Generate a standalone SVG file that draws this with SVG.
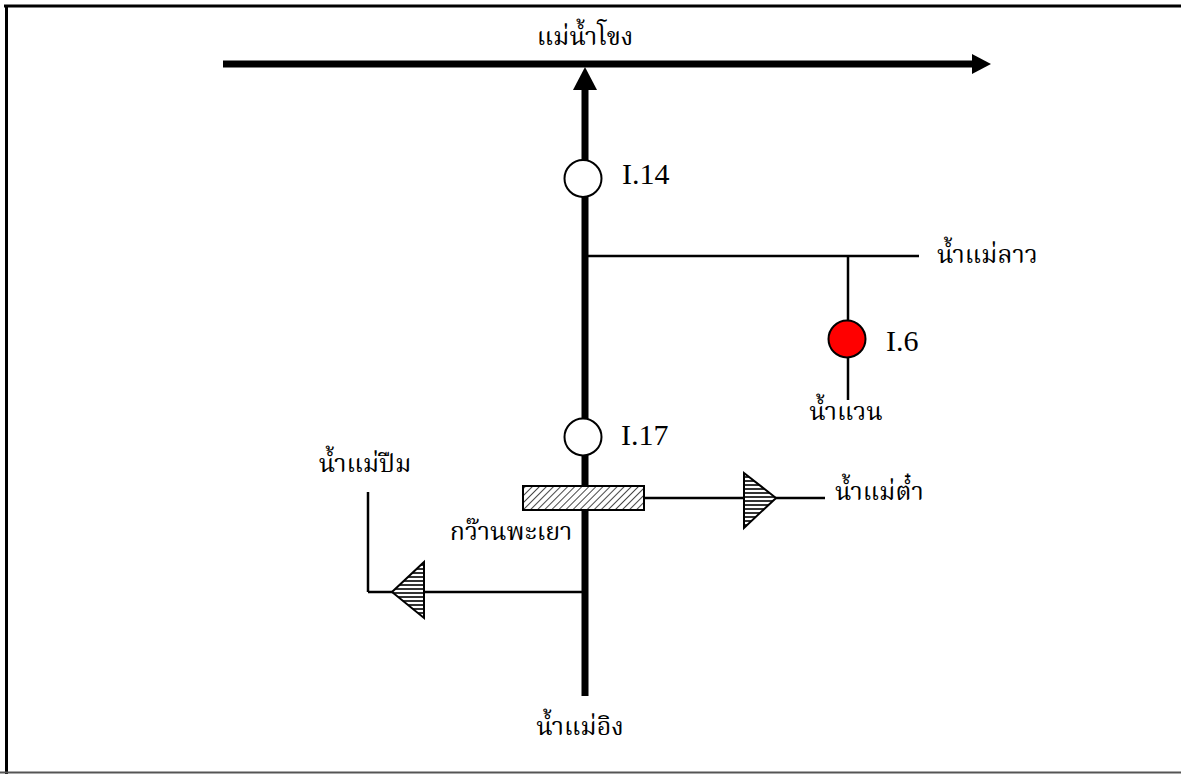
<svg xmlns="http://www.w3.org/2000/svg" width="1181" height="774" viewBox="0 0 1181 774">
<style>
.thai{font-family:"Liberation Serif","Noto Serif Thai","Noto Sans Thai",serif;font-size:25px;fill:#000}
.lbl{font-family:"Liberation Serif",serif;font-size:30px;fill:#000}
.thick{stroke:#000;stroke-width:7;fill:none}
.thin{stroke:#000;stroke-width:2.5;fill:none}
</style>
<defs>
<marker id="ahH" markerUnits="userSpaceOnUse" markerWidth="20" markerHeight="20" refX="0" refY="10" orient="auto"><path d="M0,0 L19,10 L0,20 z" fill="#000"/></marker>
<marker id="ahV" markerUnits="userSpaceOnUse" markerWidth="24" markerHeight="24" refX="0" refY="12" orient="auto"><path d="M0,0 L23,12 L0,24 z" fill="#000"/></marker>
<pattern id="diag" patternUnits="userSpaceOnUse" width="5" height="5" patternTransform="rotate(45)"><rect width="5" height="5" fill="#fff"/><line x1="0" y1="0" x2="0" y2="5" stroke="#333" stroke-width="1.8"/></pattern>
<pattern id="horiz" patternUnits="userSpaceOnUse" width="4" height="4"><rect width="4" height="4" fill="#fff"/><rect x="0" y="0" width="4" height="2" fill="#333"/></pattern>
</defs>
<rect width="1181" height="774" fill="#fff"/>
<g id="frame">
<line x1="4" y1="6" x2="1181" y2="6" stroke="#000" stroke-width="3"/>
<line x1="6.5" y1="5" x2="6.5" y2="774" stroke="#000" stroke-width="3"/>
<line x1="0" y1="772.5" x2="1181" y2="772.5" stroke="#555" stroke-width="2"/>
</g>
<g id="connectors">
<line class="thick" x1="223" y1="64" x2="972" y2="64" marker-end="url(#ahH)"/>
<line class="thick" x1="585" y1="696" x2="585" y2="90" marker-end="url(#ahV)"/>
<line class="thin" x1="585" y1="256" x2="919" y2="256"/>
<line class="thin" x1="848" y1="256" x2="848" y2="400"/>
<line class="thin" x1="644" y1="498" x2="825" y2="498"/>
<line class="thin" x1="585" y1="592" x2="368" y2="592"/>
<line class="thin" x1="368" y1="592" x2="368" y2="492"/>
</g>
<g id="mekong"><text class="thai" x="585" y="45" text-anchor="middle">แม่น้ำโขง</text></g>
<g id="ing"><text class="thai" x="580" y="735" text-anchor="middle">น้ำแม่อิง</text></g>
<g id="I14"><circle cx="583" cy="178.5" r="18.5" fill="#fff" stroke="#000" stroke-width="2"/><text class="lbl" x="622" y="184">I.14</text></g>
<g id="maelao"><text class="thai" x="937" y="263">น้ำแม่ลาว</text></g>
<g id="I6"><circle cx="847" cy="339" r="18.5" fill="#ff0000" stroke="#000" stroke-width="2"/><text class="lbl" x="886" y="351">I.6</text></g>
<g id="waen"><text class="thai" x="846" y="420" text-anchor="middle">น้ำแวน</text></g>
<g id="I17"><circle cx="583" cy="437" r="18.5" fill="#fff" stroke="#000" stroke-width="2"/><text class="lbl" x="621" y="445">I.17</text></g>
<g id="kwanphayao"><rect x="523" y="486" width="121" height="24" fill="url(#diag)" stroke="#000" stroke-width="2"/><text class="thai" x="511" y="540" text-anchor="middle">กว๊านพะเยา</text></g>
<g id="maetam"><polygon points="744,473 776,498 744,528" fill="url(#horiz)" stroke="#000" stroke-width="2"/><text class="thai" x="835" y="500">น้ำแม่ต๋ำ</text></g>
<g id="maepuem"><polygon points="424,562 392,592 424,618" fill="url(#horiz)" stroke="#000" stroke-width="2"/><text class="thai" x="365" y="472" text-anchor="middle">น้ำแม่ปืม</text></g>
</svg>
